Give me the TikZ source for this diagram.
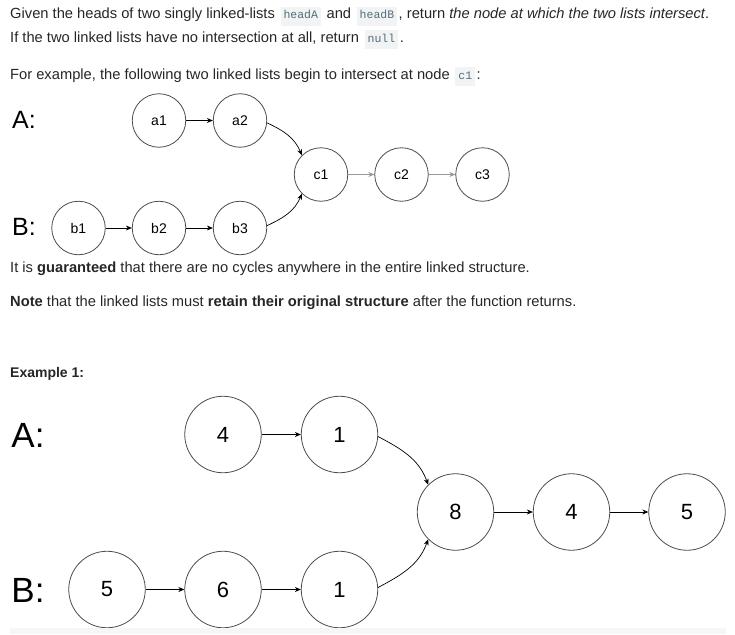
\documentclass[tikz,border=0pt]{standalone}
\usepackage{fontspec}
\setmainfont{Liberation Sans}
\setmonofont{Liberation Mono}
\usetikzlibrary{arrows.meta}

\definecolor{txt}{HTML}{262626}
\definecolor{codebg}{HTML}{F2F3F4}
\definecolor{codefg}{HTML}{546E7A}
\definecolor{band}{HTML}{F6F6F7}

\newcommand{\code}[1]{\hspace{1.5pt}{\setlength{\fboxsep}{3pt}\colorbox{codebg}{\fontsize{11.5}{11.5}\ttfamily\color{codefg}\rule[-4pt]{0pt}{13pt}#1}}\hspace{1.5pt}}

\tikzset{
  para/.style={anchor=base west, inner sep=0pt, text=txt, font=\fontsize{14.7}{17}\selectfont},
  listlabel/.style={inner sep=0pt, text=black, font=\fontsize{25}{25}\selectfont},
  biglabel/.style={inner sep=0pt, text=black, font=\fontsize{35}{35}\selectfont},
  smallnode/.style={circle, draw=black!70, line width=0.8pt, minimum size=53.5pt, inner sep=0pt, font=\fontsize{14}{14}\selectfont},
  bignode/.style={circle, draw=black!70, line width=0.8pt, minimum size=76.5pt, inner sep=0pt, font=\fontsize{22}{22}\selectfont},
  link/.style={-{Stealth[length=6pt,width=5pt]}, line width=0.7pt},
  greylink/.style={link, draw=black!40, fill=black!70},
}

\begin{document}
\begin{tikzpicture}[x=1pt,y=1pt]
        \useasboundingbox (0,0) rectangle (735,-634);
        % statement
        \node[para] (intro) at (10,-19) {Given the heads of two singly linked-lists \code{headA} and \code{headB}, return \textit{the node at which the two lists intersect}.};
        \node[para] (nullcase) at (10,-42) {If the two linked lists have no intersection at all, return \code{null}.};
        \node[para] (forex) at (10,-79) {For example, the following two linked lists begin to intersect at node \code{c1}:};
        % first picture
        \node[listlabel] (labA) at (24,-120) {A:};
        \node[listlabel] (labB) at (24,-227) {B:};
        \node[smallnode] (a1) at (159,-120.5) {a1};
        \node[smallnode] (a2) at (240,-120.5) {a2};
        \node[smallnode] (c1) at (321,-174.5) {c1};
        \node[smallnode] (c2) at (401.5,-174.5) {c2};
        \node[smallnode] (c3) at (482.5,-174.5) {c3};
        \node[smallnode] (b1) at (78.5,-228) {b1};
        \node[smallnode] (b2) at (159,-228) {b2};
        \node[smallnode] (b3) at (240,-228) {b3};
        \draw[link] (a1) -- (a2);
        \draw[link] (b1) -- (b2);
        \draw[link] (b2) -- (b3);
        \draw[link] (a2.-5) to[out=-25,in=112] (c1.135);
        \draw[link] (b3.5) to[out=25,in=-112] (c1.-135);
        \draw[greylink] (c1) -- (c2);
        \draw[greylink] (c2) -- (c3);
        % notes
        \node[para] (noloop) at (10,-272) {It is \textbf{guaranteed} that there are no cycles anywhere in the entire linked structure.};
        \node[para] (keep) at (10,-306) {\textbf{Note} that the linked lists must \textbf{retain their original structure} after the function returns.};
        \node[para, font=\fontsize{14}{16}\selectfont\bfseries] (ex1) at (10,-377) {Example 1:};
        % example 1 picture
        \node[biglabel] (labA2) at (28,-435) {A:};
        \node[biglabel] (labB2) at (28,-590) {B:};
        \node[bignode] (p4) at (223,-434.5) {4};
        \node[bignode] (p1) at (339.5,-434.5) {1};
        \node[bignode] (s8) at (455.5,-512) {8};
        \node[bignode] (s4) at (571.5,-512) {4};
        \node[bignode] (s5) at (687,-512) {5};
        \node[bignode] (q5) at (107,-589.5) {5};
        \node[bignode] (q6) at (223,-589.5) {6};
        \node[bignode] (q1) at (339.5,-589.5) {1};
        \draw[link] (p4) -- (p1);
        \draw[link] (q5) -- (q6);
        \draw[link] (q6) -- (q1);
        \draw[link] (p1.-3) to[out=-28,in=110] (s8.135);
        \draw[link] (q1.3) to[out=28,in=-110] (s8.-135);
        \draw[link] (s8) -- (s4);
        \draw[link] (s4) -- (s5);
        \fill[band] (10,-628) rectangle (726,-634);
      \end{tikzpicture}
\end{document}
